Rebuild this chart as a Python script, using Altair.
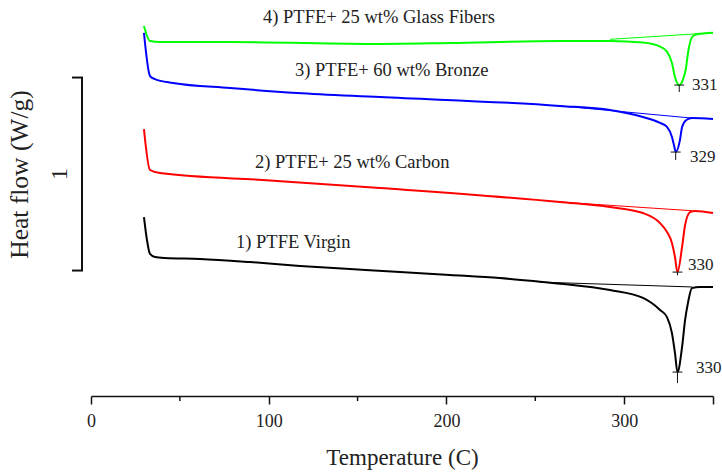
import altair as alt
import pandas as pd

FONT = "Liberation Serif"

series_names = ["1) PTFE Virgin", "2) PTFE+ 25 wt% Carbon",
                "3) PTFE+ 60 wt% Bronze", "4) PTFE+ 25 wt% Glass Fibers"]
series_colors = ["#000000", "#ff0000", "#0000ff", "#00ff00"]

# Temperature (C) and heat flow (W/g, vertically offset) for each curve
virgin_T = [29.8, 31.5, 33.2, 36.0, 41.6, 61.3, 89.5, 117.6, 145.7, 173.9, 202.0,
            230.1, 252.6, 263.9, 292.0, 310.6, 320.2, 324.1, 326.9, 328.6, 330.0,
            332.6, 334.3, 335.9, 338.2, 342.7, 350.0]
virgin_hf = [0.927, 0.808, 0.736, 0.720, 0.715, 0.710, 0.694, 0.674, 0.658, 0.642, 0.627,
             0.611, 0.592, 0.582, 0.549, 0.508, 0.446, 0.409, 0.326, 0.223, 0.124,
             0.254, 0.394, 0.482, 0.560, 0.565, 0.565]

carbon_T = [29.8, 33.2, 38.8, 100.7, 162.6, 263.9, 292.0, 310.6, 320.2, 324.1, 326.9,
            328.6, 330.0, 332.6, 334.3, 337.1, 339.9, 350.0]
carbon_hf = [1.383, 1.171, 1.155, 1.117, 1.078, 1.005, 0.979, 0.948, 0.896, 0.850, 0.793,
             0.720, 0.642, 0.772, 0.886, 0.953, 0.959, 0.948]

bronze_T = [29.8, 33.2, 36.0, 46.1, 78.2, 115.9, 162.6, 263.9, 292.0, 310.6, 320.2,
            324.1, 326.9, 328.4, 329.0, 331.4, 332.6, 335.0, 338.2, 350.0]
bronze_hf = [1.881, 1.658, 1.642, 1.622, 1.596, 1.570, 1.549, 1.503, 1.482, 1.446, 1.415,
             1.394, 1.342, 1.285, 1.264, 1.326, 1.394, 1.430, 1.440, 1.435]

glass_T = [29.8, 33.2, 38.8, 78.2, 162.6, 202.0, 263.9, 292.0, 310.6, 320.2, 324.1,
           326.9, 328.6, 331.0, 333.0, 334.6, 336.2, 338.4, 341.0, 350.0]
glass_hf = [1.917, 1.839, 1.834, 1.834, 1.824, 1.829, 1.839, 1.839, 1.831, 1.810, 1.784,
            1.725, 1.653, 1.611, 1.637, 1.689, 1.793, 1.862, 1.874, 1.882]

# Baseline (integration) lines: start/end temperature and heat flow
base_T1 = [252.6, 263.9, 263.9, 292.0]
base_T2 = [338.2, 338.2, 338.2, 350.0]
base_hf1 = [0.590, 1.005, 1.503, 1.848]
base_hf2 = [0.565, 0.960, 1.440, 1.882]

# Peak temperatures and marks
peak_T = [330.0, 330.0, 329.0, 331.0]
peak_hf = [0.124, 0.642, 1.264, 1.611]
peak_low = [0.067, 0.625, 1.223, 1.575]
peak_labels = ["330", "330", "329", "331"]
peak_label_T = [340.5, 336.0, 337.1, 338.2]
peak_label_hf = [0.145, 0.679, 1.238, 1.611]

# Curve name labels (left edge temperature, heat flow)
name_T = [81.6, 92.3, 114.8, 96.8]
name_hf = [0.800, 1.212, 1.689, 1.964]

# Scale bar: 1 W/g
bar_hf = [0.65, 1.65]

x_ticks = [0, 100, 200, 300, 350]
minor_ticks = [50, 150, 250]

rows = []
for name, Ts, hfs in zip(series_names, [virgin_T, carbon_T, bronze_T, glass_T],
                         [virgin_hf, carbon_hf, bronze_hf, glass_hf]):
    for t, h in zip(Ts, hfs):
        rows.append({"series": name, "T": t, "hf": h})
curves = pd.DataFrame(rows)

baselines = pd.DataFrame({"series": series_names, "T": base_T1, "T2": base_T2,
                          "hf": base_hf1, "hf2": base_hf2})
peaks = pd.DataFrame({"T": peak_T, "hf": peak_hf, "low": peak_low,
                      "Tl": [t - 2.8 for t in peak_T], "Tr": [t + 2.8 for t in peak_T],
                      "label": peak_labels, "lT": peak_label_T, "lhf": peak_label_hf})
names = pd.DataFrame({"series": series_names, "T": name_T, "hf": name_hf})
bar = pd.DataFrame({"hf": [bar_hf[0]], "hf2": [bar_hf[1]], "mid": [(bar_hf[0] + bar_hf[1]) / 2]})
bar_ends = pd.DataFrame({"hf": bar_hf})
minors = pd.DataFrame({"T": minor_ticks})

xs = alt.Scale(domain=[0, 350], nice=False, zero=False)
ys = alt.Scale(domain=[0, 2.0], nice=False, zero=False)
cs = alt.Scale(domain=series_names, range=series_colors)

x_axis = alt.Axis(
    values=x_ticks, labelExpr="datum.value == 350 ? '' : datum.label",
    title="Temperature (C)", grid=False, tickSize=8, tickWidth=1.5, domainWidth=1.5,
    labelFontSize=18, titleFontSize=23, labelPadding=8, labelFlush=False,
    titlePadding=16)
y_axis = alt.Axis(
    domain=False, ticks=False, labels=False, grid=False, title="Heat flow (W/g)",
    titleFontSize=25.5, titleAngle=270, titleX=-72, titleY=164,
    titleAlign="center", titleBaseline="middle")


def X(field):
    return alt.X(field, scale=xs, axis=x_axis, title="Temperature (C)")


def Y(field):
    return alt.Y(field, scale=ys, axis=y_axis, title="Heat flow (W/g)")


lines = alt.Chart(curves).mark_line(strokeWidth=2, interpolate="monotone").encode(
    x=X("T:Q"), y=Y("hf:Q"),
    color=alt.Color("series:N", scale=cs, legend=None),
    detail="series:N",
)

base_lines = alt.Chart(baselines).mark_rule(strokeWidth=1).encode(
    x=X("T:Q"), x2="T2:Q", y=Y("hf:Q"), y2="hf2:Q",
    color=alt.Color("series:N", scale=cs, legend=None),
)

peak_v = alt.Chart(peaks).mark_rule(strokeWidth=1, color="#111111").encode(
    x=X("T:Q"), y=Y("low:Q"), y2="hf:Q",
)
peak_h = alt.Chart(peaks).mark_rule(strokeWidth=1, color="#111111").encode(
    x=X("Tl:Q"), x2="Tr:Q", y=Y("hf:Q"),
)
peak_txt = alt.Chart(peaks).mark_text(font=FONT, fontSize=17, align="left",
                                      baseline="middle", color="#222222").encode(
    x=X("lT:Q"), y=Y("lhf:Q"), text="label:N",
)

name_txt = alt.Chart(names).mark_text(font=FONT, fontSize=18.5, align="left",
                                      baseline="middle", color="#222222").encode(
    x=X("T:Q"), y=Y("hf:Q"), text="series:N",
)

bar_line = alt.Chart(bar).mark_rule(strokeWidth=2, color="#111111").encode(
    x=alt.value(-9), y=Y("hf:Q"), y2="hf2:Q",
)
bar_end = alt.Chart(bar_ends).mark_rule(strokeWidth=2, color="#111111").encode(
    x=alt.value(-19), x2=alt.value(-8), y=Y("hf:Q"),
)
bar_txt = alt.Chart(bar).mark_text(font=FONT, fontSize=24, angle=270, align="center",
                                   baseline="middle", color="#222222").encode(
    x=alt.value(-31), y=Y("mid:Q"), text=alt.value("1"),
)

minor = alt.Chart(minors).mark_rule(strokeWidth=1.5, color="#111111").encode(
    x=X("T:Q"), y=alt.value(386), y2=alt.value(391),
)

chart = alt.layer(
    lines, base_lines, peak_v, peak_h, peak_txt, name_txt, bar_line, bar_end, bar_txt, minor
).properties(
    width=622, height=386,
    padding={"left": 91, "top": 10, "right": 9, "bottom": 77},
    autosize=alt.AutoSizeParams(type="none"),
    background="white",
).configure_view(stroke=None).configure_axis(
    labelFont=FONT, titleFont=FONT, labelColor="#222222", titleColor="#222222",
    domainColor="#111111", tickColor="#111111", titleFontWeight="normal",
)

chart.save("out.html", embed_options={"renderer": "svg", "actions": False})
